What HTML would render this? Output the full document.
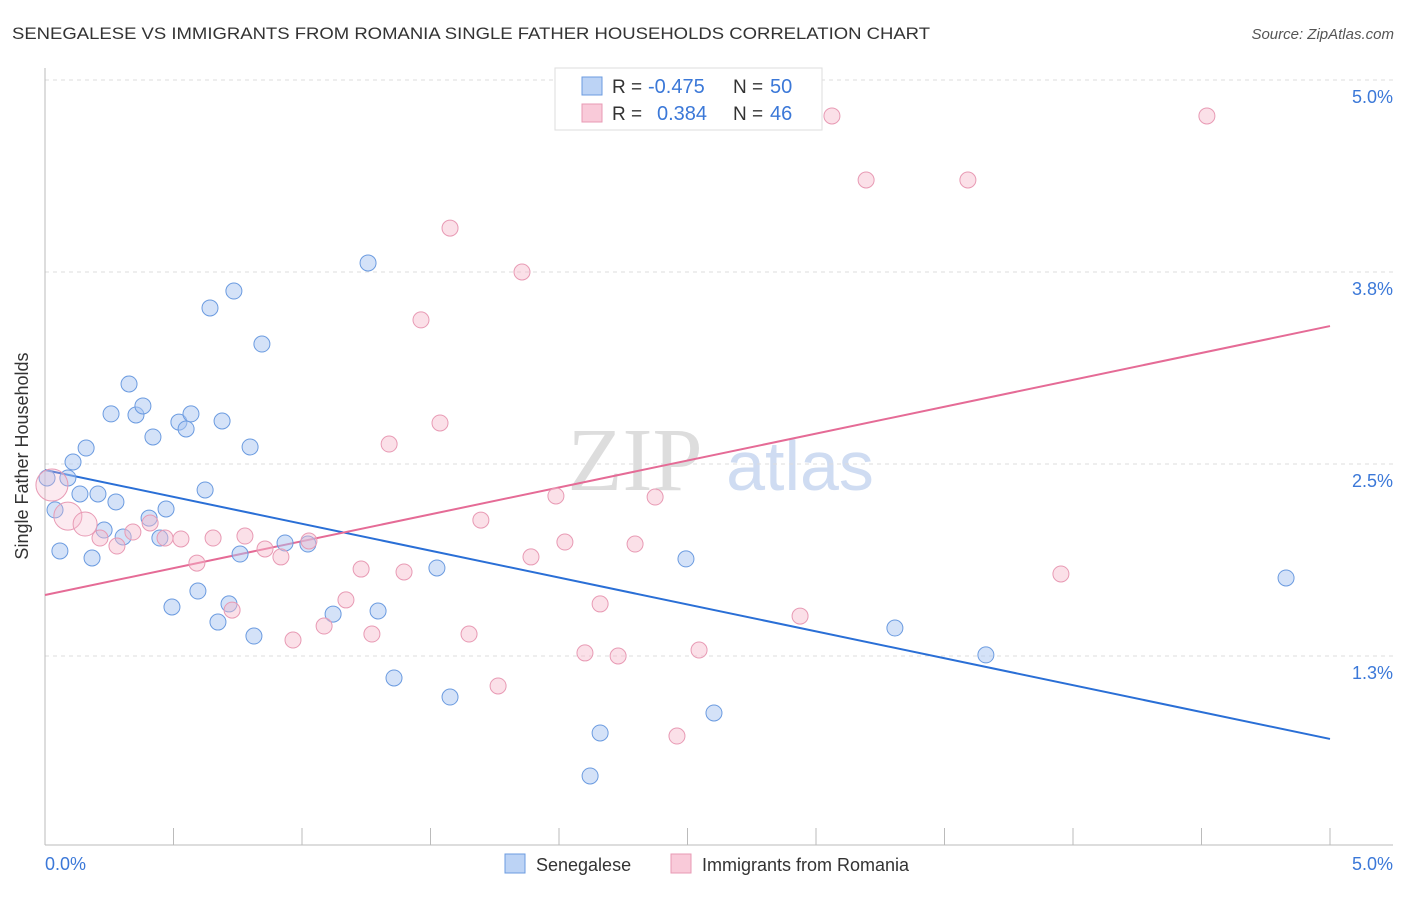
<!DOCTYPE html>
<html><head><meta charset="utf-8"><style>
body{margin:0;background:#fff;font-family:"Liberation Sans",sans-serif;}
</style></head><body>
<svg id="c" width="1406" height="892" xmlns="http://www.w3.org/2000/svg">
<text x="12" y="39" font-size="17" fill="#333" textLength="918" lengthAdjust="spacingAndGlyphs">SENEGALESE VS IMMIGRANTS FROM ROMANIA SINGLE FATHER HOUSEHOLDS CORRELATION CHART</text>
<text x="1394" y="39" font-size="15" fill="#555" font-style="italic" text-anchor="end">Source: ZipAtlas.com</text>
<text x="635" y="490" font-size="90" fill="#ddd" font-family="Liberation Serif,serif" text-anchor="middle">ZIP</text>
<text x="800" y="490" font-size="70" fill="#cfdcf2" text-anchor="middle">atlas</text>
<g id="grid"></g><g id="axes"></g><g id="lines"></g><g id="pts"></g>
<text x="28" y="456" font-size="18" fill="#333" text-anchor="middle" transform="rotate(-90 28 456)">Single Father Households</text>
<text x="45" y="870" font-size="18" fill="#3b78d8">0.0%</text>
<text x="1393" y="870" font-size="18" fill="#3b78d8" text-anchor="end">5.0%</text>
<g>
<rect x="555" y="68" width="267" height="62" fill="#fff" stroke="#ddd"/>
<rect x="582" y="77" width="20" height="18" fill="#bcd3f5" stroke="#6b9be0"/>
<rect x="582" y="104" width="20" height="18" fill="#f9cad9" stroke="#e89ab4"/>
<text x="612" y="93" font-size="19" fill="#333">R =</text>
<text x="648" y="93" font-size="20" fill="#3b78d8">-0.475</text>
<text x="733" y="93" font-size="19" fill="#333">N =</text>
<text x="770" y="93" font-size="20" fill="#3b78d8">50</text>
<text x="612" y="120" font-size="19" fill="#333">R =</text>
<text x="657" y="120" font-size="20" fill="#3b78d8">0.384</text>
<text x="733" y="120" font-size="19" fill="#333">N =</text>
<text x="770" y="120" font-size="20" fill="#3b78d8">46</text>
</g>
<g>
<rect x="505" y="854" width="20" height="19" fill="#bcd3f5" stroke="#6b9be0"/>
<text x="536" y="871" font-size="18" fill="#333">Senegalese</text>
<rect x="671" y="854" width="20" height="19" fill="#f9cad9" stroke="#e89ab4"/>
<text x="702" y="871" font-size="18" fill="#333">Immigrants from Romania</text>
</g>
</svg>
<script>
const yTicks=[5.0,3.75,2.5,1.25];
const yTickLabels=["5.0%","3.8%","2.5%","1.3%"];
const xTicks=[0,0.5,1,1.5,2,2.5,3,3.5,4,4.5,5];
const blueX=[0.008,0.039,0.058,0.089,0.109,0.136,0.160,0.183,0.206,0.230,0.257,0.276,0.304,0.327,0.354,0.381,0.405,0.420,0.447,0.471,0.494,0.521,0.549,0.568,0.595,0.623,0.642,0.673,0.689,0.716,0.735,0.759,0.798,0.813,0.844,0.934,1.023,1.121,1.257,1.296,1.358,1.525,1.576,2.121,2.160,2.494,2.603,3.307,3.661,4.829];
const blueY=[2.409,2.201,1.934,2.409,2.513,2.305,2.604,1.888,2.305,2.070,2.826,2.253,2.025,3.021,2.819,2.878,2.148,2.676,2.018,2.207,1.569,2.773,2.728,2.826,1.673,2.331,3.516,1.471,2.780,1.589,3.626,1.914,2.611,1.380,3.281,1.986,1.979,1.523,3.809,1.543,1.107,1.823,0.983,0.469,0.749,1.882,0.879,1.432,1.257,1.758];
const pinkX=[0.027,0.089,0.156,0.214,0.280,0.342,0.409,0.467,0.529,0.591,0.654,0.728,0.778,0.856,0.918,0.965,1.027,1.086,1.171,1.230,1.272,1.397,1.463,1.339,1.537,1.576,1.650,1.696,1.763,1.856,1.891,1.988,2.023,2.101,2.160,2.230,2.296,2.374,2.459,2.545,2.938,3.062,3.195,3.591,3.953,4.521];
const pinkY=[2.363,2.161,2.109,2.018,1.966,2.057,2.116,2.018,2.012,1.855,2.018,1.549,2.031,1.947,1.895,1.354,1.999,1.445,1.615,1.816,1.393,1.797,3.438,2.630,2.767,4.036,1.393,2.135,1.055,3.750,1.895,2.292,1.992,1.270,1.589,1.250,1.979,2.285,0.729,1.289,1.510,4.766,4.349,4.349,1.784,4.766];
const pinkBig=[16,14,12];
const blueTrend=[2.461,0.710];
const pinkTrend=[1.647,3.398];
const X=v=>45+v*257;
const Y=v=>80+(5-v)*153.6;
const NS="http://www.w3.org/2000/svg";
function mk(p,t,a){const e=document.createElementNS(NS,t);for(const k in a)e.setAttribute(k,a[k]);document.getElementById(p).appendChild(e);return e;}
yTicks.forEach((t,i)=>{
 const l=mk('grid','line',{x1:45,x2:1393,y1:Y(t),y2:Y(t),stroke:'#ddd','stroke-dasharray':'4,4'});
 
 
 const tx=mk('grid','text',{x:1393,y:Y(t)+23,'font-size':18,fill:'#3b78d8','text-anchor':'end'});
 tx.textContent=yTickLabels[i];
 
 
});
const ax=mk('axes','line',{x1:45,x2:45,y1:68,y2:845,stroke:'#bbb'});


const bx=mk('axes','line',{x1:45,x2:1393,y1:845,y2:845,stroke:'#bbb'});


xTicks.forEach(t=>{
 const l=mk('axes','line',{x1:X(t),x2:X(t),y1:828,y2:845,stroke:'#bbb'});
 
 
});
blueX.forEach((x,i)=>{
 const c=mk('pts','circle',{cx:X(x),cy:Y(blueY[i]),r:8,fill:'rgba(170,198,242,0.5)',stroke:'#6b9be0','stroke-width':1});
 
 
});
pinkX.forEach((x,i)=>{
 const c=mk('pts','circle',{cx:X(x),cy:Y(pinkY[i]),r:pinkBig[i]||8,fill:pinkBig[i]?'rgba(246,186,205,0.3)':'rgba(246,186,205,0.45)',stroke:'#e89ab4','stroke-width':1});
 
 
});
const bl=mk('lines','line',{x1:X(0),x2:X(5),y1:Y(blueTrend[0]),y2:Y(blueTrend[1]),stroke:'#2a6fd6','stroke-width':2});


const pl=mk('lines','line',{x1:X(0),x2:X(5),y1:Y(pinkTrend[0]),y2:Y(pinkTrend[1]),stroke:'#e56b96','stroke-width':2});


</script>
</body></html>
